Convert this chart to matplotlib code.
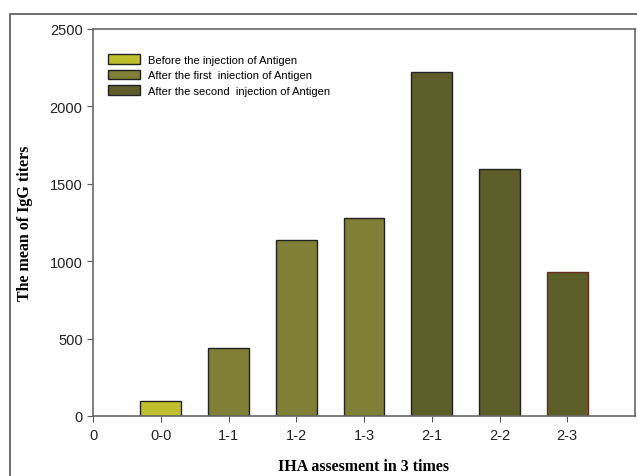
import numpy as np
import matplotlib.pyplot as plt
from matplotlib.patches import Rectangle, Patch

# IgG titers
groups = ["0-0", "1-1", "1-2", "1-3", "2-1", "2-2", "2-3"]
titers = [100, 440, 1140, 1280, 2225, 1595, 930]
stage = [0, 1, 1, 1, 2, 2, 2]
stage_names = ["Before the injection of Antigen",
               "After the first  iniection of Antigen",
               "After the second  injection of Antigen"]
stage_colors = ["#bfbf2e", "#7f7f35", "#5d5d2a"]
edge_colors = ["#222222"] * 6 + ["#6a2a20"]

fig = plt.figure(figsize=(6.37, 4.77), dpi=100)
ax = fig.add_axes([93/637, 1 - 417/477, (635-93)/637, (417-30)/477])

x = np.arange(1, len(groups) + 1)
ax.bar(x, titers, width=0.6, color=[stage_colors[s] for s in stage],
       edgecolor=edge_colors, linewidth=1.0)

ax.set_xlim(0, 8)
ax.set_ylim(0, 2500)
ax.set_xticks(np.arange(0, 8))
ax.set_xticklabels(["0"] + groups, fontsize=10.5, family="Liberation Sans")
ax.set_yticks(np.arange(0, 2501, 500))
ax.set_yticklabels([str(v) for v in range(0, 2501, 500)], fontsize=10.5, family="Liberation Sans")
ax.tick_params(direction="out", length=4, color="#555555", labelcolor="#222222")
ax.tick_params(axis="x", pad=5)
for sp in ax.spines.values():
    sp.set_color("#666666")
    sp.set_linewidth(1.2)

ax.set_ylabel("The mean of IgG titers", family="Liberation Serif", fontweight="bold",
              fontsize=11.5, labelpad=12)
ax.set_xlabel("IHA assesment in 3 times", family="Liberation Serif", fontweight="bold",
              fontsize=11.5)
ax.xaxis.set_label_coords(0.5, -0.108)

handles = [Patch(facecolor=c, edgecolor="#222222", linewidth=1.0) for c in stage_colors]
ax.legend(handles, stage_names, loc="upper left", bbox_to_anchor=(0.01, 0.96),
          frameon=False, handlelength=2.8, handleheight=0.9,
          labelspacing=0.45, prop={"family": "Liberation Sans", "size": 8})

# outer frame of the figure
fig.patches.append(Rectangle((10/637, -0.05), 1.0, 1 - 15/477 + 0.05,
                             transform=fig.transFigure, fill=False,
                             edgecolor="#555555", linewidth=1.2, clip_on=False))

fig.savefig("out.png", dpi=100)
